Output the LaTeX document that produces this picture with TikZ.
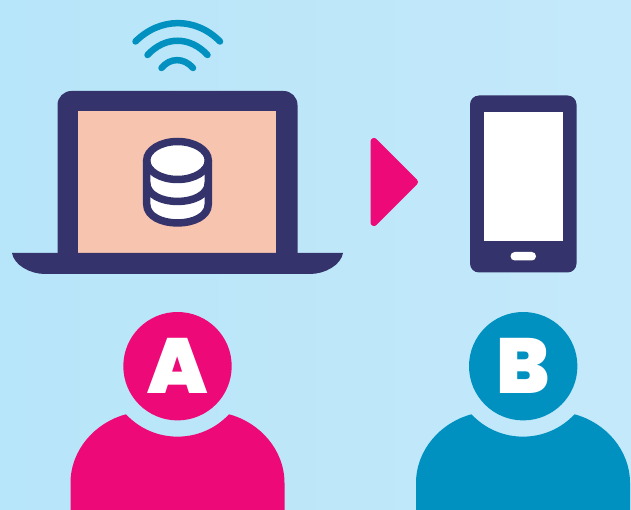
\documentclass[tikz,border=0pt]{standalone}
\usepackage{fontspec}
\newfontfamily\hv{Poppins Black}
\definecolor{navy}{HTML}{35336B}
\definecolor{pinkc}{HTML}{EE0979}
\definecolor{bluec}{HTML}{0091C0}
\definecolor{peach}{HTML}{F7C4AF}
\definecolor{bgl}{HTML}{B7E5F9}
\definecolor{bgr}{HTML}{C4E9FA}
\newcommand{\bodypath}{(70.5,510) -- (70.5,483) .. controls (70.5,450) and (95,422.5) .. (126,414.3) .. controls (153.8,444.1) and (201.2,444.1) .. (229,414.3) .. controls (260,422.5) and (284.5,450) .. (284.5,483) -- (284.5,510) -- cycle}
\tikzset{
  head/.style={circle,inner sep=0pt,minimum size=108.4pt,text=white,font=\hv\fontsize{78}{78}\selectfont},
  wave/.style={draw=bluec,line width=6.5pt,line cap=round},
  stack/.style={draw=navy,line width=7.5pt}
}
\begin{document}
\begin{tikzpicture}[x=1pt,y=-1pt]
\useasboundingbox (0,0) rectangle (631,510);
\shade[left color=bgl,right color=bgr] (0,0) rectangle (631,510);
% wifi
\draw[wave] (135.5,41.5) .. controls (160,17) and (196,17) .. (220,41.5);
\draw[wave] (147.5,55) .. controls (165,36) and (190,36) .. (207.5,55);
\draw[wave] (161.5,68) .. controls (170,57.5) and (184,57.5) .. (193,68);
% laptop
\fill[navy,rounded corners=14pt] (57.5,91) rectangle (297.5,270);
\fill[peach] (78,111) rectangle (276,253);
\fill[navy] (12,253) .. controls (14,265) and (30,274) .. (45,274) -- (310,274) .. controls (325,274) and (341,265) .. (343,253) -- cycle;
% database
\fill[white] (146.7,160.5) -- (146.7,204) .. controls (146.7,232) and (208.3,232) .. (208.3,204) -- (208.3,160.5) -- cycle;
\filldraw[stack,fill=white] (177.5,160.5) ellipse [x radius=30.8,y radius=19];
\draw[stack] (146.7,160.5) -- (146.7,204) .. controls (146.7,229.3) and (208.3,229.3) .. (208.3,204) -- (208.3,160.5);
\draw[stack] (146.7,182.5) .. controls (146.7,207.8) and (208.3,207.8) .. (208.3,182.5);
% arrow
\filldraw[pinkc,line width=7pt,line join=round] (374,141.5) -- (414.5,182) -- (374,222.5) -- cycle;
% phone
\fill[navy,rounded corners=9pt] (470,95.5) rectangle (576.5,272.5);
\fill[white] (484,112) rectangle (563,241);
\fill[white,rounded corners=4.2pt] (510.5,252) rectangle (536,260.5);
% persons
\fill[pinkc] \bodypath;
\node[head,fill=pinkc] (a) at (177.5,366.2) {A};
\begin{scope}[xshift=345.5pt]
\fill[bluec] \bodypath;
\end{scope}
\node[head,fill=bluec] (b) at (523.2,366.2) {B};
\end{tikzpicture}
\end{document}
